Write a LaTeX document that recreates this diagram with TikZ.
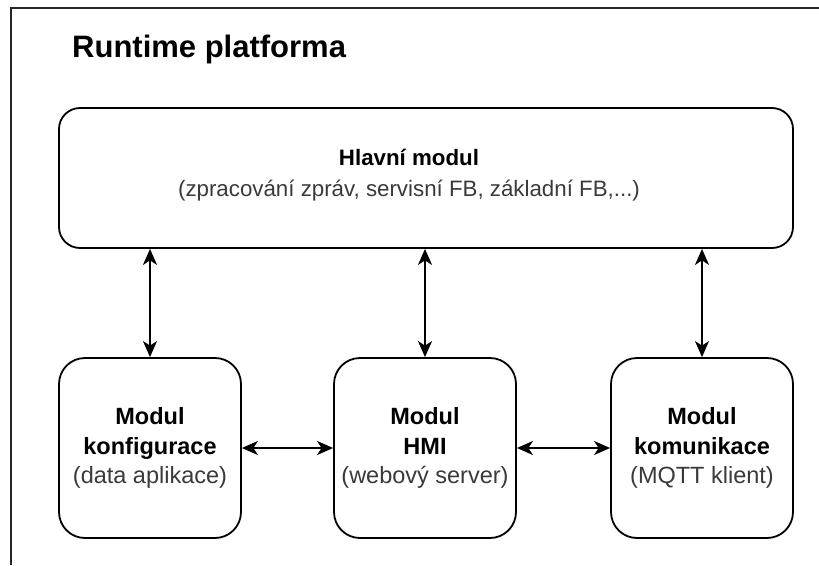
\documentclass[tikz,border=0pt]{standalone}
\usepackage{fontspec}
\setmainfont{Liberation Sans}
\usetikzlibrary{arrows.meta}
\definecolor{subtxt}{HTML}{3A3A3A}
\begin{document}
\begin{tikzpicture}[x=1pt,y=-1pt,
  modbox/.style={draw=black, line width=1.8pt, fill=white, inner sep=0pt, align=center},
  bigbox/.style={modbox, rounded corners=21pt, minimum width=734pt, minimum height=140pt},
  smallbox/.style={modbox, rounded corners=26pt, minimum width=182pt, minimum height=180pt,
    font=\fontsize{23.5}{29.5}\selectfont},
  boxlabel/.style={inner sep=0pt, align=center, font=\fontsize{22.3}{31}\selectfont},
  link/.style={line width=1.9pt, {Stealth[length=16pt,width=14pt,inset=4.5pt]}-{Stealth[length=16pt,width=14pt,inset=4.5pt]}},
  frame/.style={line width=2pt, draw=black!85}]
\useasboundingbox (0,0) rectangle (819,565);

% enclosing platform frame (continues past the right and bottom edges)
\draw[frame] (819,7.5) -- (11,7.5) -- (11,565);

\node[anchor=base west, inner sep=0pt, font=\bfseries\fontsize{31}{36}\selectfont]
  (title) at (72,57) {Runtime platforma};

% main module
\node[bigbox] (main) at (426,178) {};
\node[boxlabel] (mainlbl) at ([xshift=-17pt,yshift=3pt]main.center)
  {\textbf{Hlavní modul}\\{\color{subtxt}(zpracování zpráv, servisní FB, základní FB,...)}};

% submodules
\node[smallbox] (cfg) at (150,448)
  {\textbf{Modul}\\\textbf{konfigurace}\\{\color{subtxt}(data aplikace)}};
\node[smallbox] (hmi) at (425,448)
  {\textbf{Modul}\\\textbf{HMI}\\{\color{subtxt}(webový server)}};
\node[smallbox] (com) at (702,448)
  {\textbf{Modul}\\\textbf{komunikace}\\{\color{subtxt}(MQTT klient)}};

% connections to the main module
\draw[link] (cfg.north |- main.south) -- (cfg.north);
\draw[link] (hmi.north |- main.south) -- (hmi.north);
\draw[link] (com.north |- main.south) -- (com.north);

% connections between submodules
\draw[link] (cfg.east) -- (hmi.west);
\draw[link] (hmi.east) -- (com.west);
\end{tikzpicture}
\end{document}
